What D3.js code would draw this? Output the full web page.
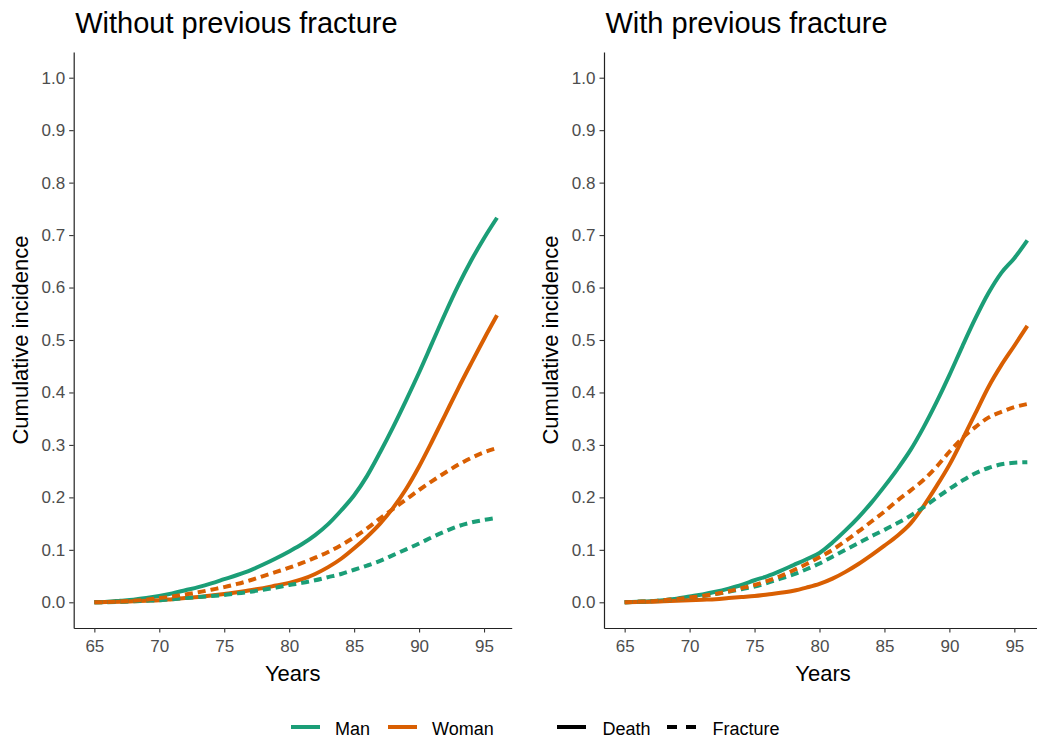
<!DOCTYPE html>
<html>
<head>
<meta charset="utf-8">
<script src="https://cdn.jsdelivr.net/npm/d3@7"></script>
<style>
  html, body { margin: 0; padding: 0; background: #fff; }
  svg { display: block; font-family: "Liberation Sans", Arial, sans-serif; }
</style>
</head>
<body>
<svg id="chart" width="1037" height="738"></svg>
<script>
// Age (years) at which cumulative incidence is evaluated
const years = [65,66,67,68,69,70,71,72,73,74,75,76,77,78,79,80,81,82,83,84,85,86,87,88,89,90,91,92,93,94,95,96];

// Without previous fracture
const noPrevManDeath      = [0,0.001,0.003,0.005,0.008,0.012,0.017,0.023,0.029,0.036,0.044,0.052,0.061,0.072,0.084,0.097,0.111,0.128,0.149,0.175,0.204,0.241,0.286,0.334,0.385,0.438,0.494,0.550,0.603,0.651,0.694,0.733];
const noPrevWomanDeath    = [0,0.0005,0.001,0.002,0.003,0.004,0.006,0.008,0.010,0.013,0.016,0.019,0.023,0.027,0.032,0.037,0.044,0.054,0.067,0.083,0.103,0.125,0.150,0.180,0.216,0.259,0.307,0.357,0.407,0.455,0.502,0.547];
const noPrevManFracture   = [0,0.0003,0.001,0.002,0.003,0.004,0.006,0.008,0.010,0.012,0.014,0.017,0.020,0.024,0.028,0.033,0.037,0.042,0.048,0.054,0.062,0.070,0.079,0.090,0.101,0.112,0.124,0.135,0.145,0.152,0.157,0.161];
const noPrevWomanFracture = [0,0.0005,0.0015,0.003,0.005,0.008,0.011,0.015,0.019,0.024,0.029,0.035,0.042,0.050,0.058,0.066,0.075,0.085,0.096,0.109,0.124,0.141,0.160,0.178,0.196,0.214,0.231,0.247,0.262,0.275,0.286,0.294];

// With previous fracture
const prevManDeath      = [0,0.001,0.002,0.004,0.007,0.011,0.015,0.020,0.026,0.033,0.042,0.050,0.060,0.071,0.082,0.094,0.114,0.137,0.162,0.190,0.221,0.254,0.290,0.333,0.381,0.433,0.488,0.541,0.589,0.628,0.656,0.690];
const prevWomanDeath    = [0,0.0005,0.001,0.002,0.003,0.004,0.005,0.006,0.008,0.010,0.012,0.015,0.018,0.022,0.028,0.035,0.045,0.058,0.073,0.090,0.108,0.127,0.150,0.183,0.221,0.262,0.310,0.360,0.410,0.452,0.489,0.527];
const prevManFracture   = [0,0.001,0.002,0.004,0.006,0.009,0.012,0.016,0.020,0.025,0.030,0.037,0.045,0.053,0.063,0.074,0.087,0.100,0.113,0.126,0.138,0.151,0.165,0.181,0.199,0.216,0.232,0.246,0.256,0.263,0.266,0.267];
const prevWomanFracture = [0,0.001,0.002,0.004,0.006,0.009,0.012,0.016,0.021,0.027,0.033,0.041,0.050,0.061,0.073,0.086,0.100,0.117,0.135,0.154,0.173,0.194,0.213,0.233,0.258,0.287,0.313,0.334,0.352,0.363,0.372,0.378];

const panelTitles = ["Without previous fracture", "With previous fracture"];
const sexes = ["Man", "Woman"];
const events = ["Death", "Fracture"];
const xTicks = [65,70,75,80,85,90,95];
const yTicks = [0,0.1,0.2,0.3,0.4,0.5,0.6,0.7,0.8,0.9,1.0];

const colors = { Man: "#1B9E77", Woman: "#D95F02" };
const dashes = { Death: null, Fracture: "8,5" };

const panels = [
  { title: panelTitles[0], series: [
      { sex: "Man", event: "Death", values: noPrevManDeath },
      { sex: "Woman", event: "Death", values: noPrevWomanDeath },
      { sex: "Man", event: "Fracture", values: noPrevManFracture },
      { sex: "Woman", event: "Fracture", values: noPrevWomanFracture } ] },
  { title: panelTitles[1], series: [
      { sex: "Man", event: "Death", values: prevManDeath },
      { sex: "Woman", event: "Death", values: prevWomanDeath },
      { sex: "Man", event: "Fracture", values: prevManFracture },
      { sex: "Woman", event: "Fracture", values: prevWomanFracture } ] }
];

const svg = d3.select("#chart");
const plotTop = 52, plotBottom = 628, plotWidth = 438;
const panelLeft = [73.7, 604];

panels.forEach((p, i) => {
  const x0 = panelLeft[i];
  const x = d3.scaleLinear().domain([63.41, 97.13]).range([x0, x0 + plotWidth]);
  const y = d3.scaleLinear().domain([-0.049, 1.049]).range([plotBottom, plotTop]);
  const g = svg.append("g");

  // panel title
  g.append("text").attr("x", x0 + 1.5).attr("y", 33)
    .attr("font-size", 29).attr("fill", "#000").text(p.title);

  // axes
  const xAxis = g.append("g").attr("transform", `translate(0,${plotBottom})`)
    .call(d3.axisBottom(x).tickValues(xTicks).tickSize(4.5).tickSizeOuter(0).tickPadding(4));
  const yAxis = g.append("g").attr("transform", `translate(${x0},0)`)
    .call(d3.axisLeft(y).tickValues(yTicks).tickFormat(d3.format(".1f")).tickSize(4.5).tickSizeOuter(0).tickPadding(4));
  [xAxis, yAxis].forEach(a => {
    a.select(".domain").attr("stroke", "#222").attr("stroke-width", 1.2);
    a.selectAll(".tick line").attr("stroke", "#333").attr("stroke-width", 1.1);
    a.selectAll(".tick text").attr("fill", "#4D4D4D").attr("font-size", 17)
      .attr("font-family", "Liberation Sans, Arial, sans-serif");
  });
  xAxis.selectAll(".tick text").attr("dy", "0.71em").attr("y", 12);

  // axis titles
  g.append("text").attr("x", x0 + plotWidth / 2).attr("y", 681)
    .attr("text-anchor", "middle").attr("font-size", 22).text("Years");
  g.append("text").attr("transform", `translate(${x0 - 46},${(plotTop + plotBottom) / 2}) rotate(-90)`)
    .attr("text-anchor", "middle").attr("font-size", 22).text("Cumulative incidence");

  // curves
  const line = d3.line().x((d, k) => x(years[k])).y(d => y(d)).curve(d3.curveMonotoneX);
  p.series.forEach(s => {
    g.append("path").attr("d", line(s.values))
      .attr("fill", "none").attr("stroke", colors[s.sex]).attr("stroke-width", 4)
      .attr("stroke-dasharray", dashes[s.event]);
  });
});

// legend
const lg = svg.append("g");
const legendY = 727;
const colorItems = [ { label: sexes[0], x: 291 }, { label: sexes[1], x: 388 } ];
colorItems.forEach(it => {
  lg.append("line").attr("x1", it.x).attr("x2", it.x + 29).attr("y1", legendY).attr("y2", legendY)
    .attr("stroke", colors[it.label]).attr("stroke-width", 4);
  lg.append("text").attr("x", it.x + 44).attr("y", 735).attr("font-size", 18).text(it.label);
});
const typeItems = [ { label: events[0], x: 557 }, { label: events[1], x: 667 } ];
typeItems.forEach(it => {
  lg.append("line").attr("x1", it.x).attr("x2", it.x + 29).attr("y1", legendY).attr("y2", legendY)
    .attr("stroke", "#000").attr("stroke-width", 4)
    .attr("stroke-dasharray", it.label === "Fracture" ? "10,9" : null);
  lg.append("text").attr("x", it.x + 45.5).attr("y", 735).attr("font-size", 18).text(it.label);
});
</script>
</body>
</html>
